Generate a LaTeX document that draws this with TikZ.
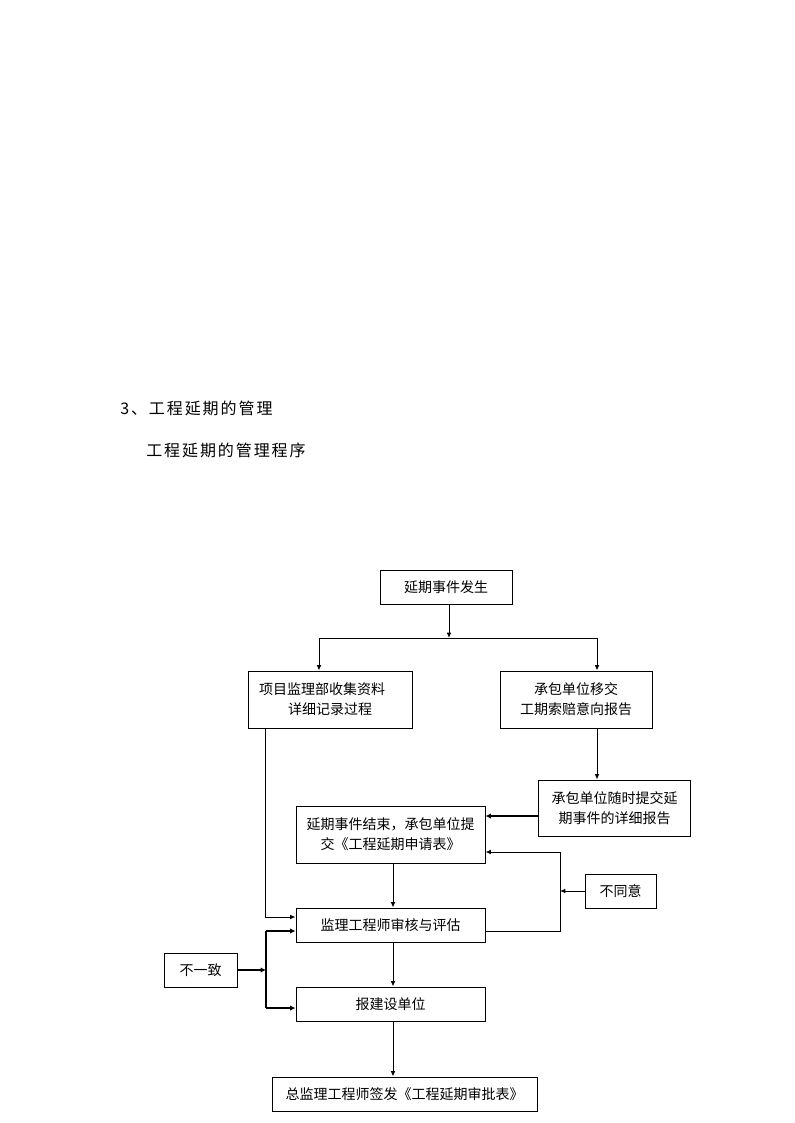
\documentclass[tikz,border=0pt]{standalone}
\usepackage{fontspec}
\newfontfamily\cjk{Noto Sans CJK SC}
\newfontfamily\cjkhead[LetterSpace=12]{Noto Sans CJK SC}
\usetikzlibrary{arrows.meta}

\tikzset{
  box/.style 2 args={draw, line width=0.75pt, minimum width=#1*0.75pt, minimum height=#2*0.75pt,
    inner sep=0pt, align=center, font=\cjk\fontsize{10.5}{15}\selectfont},
  head/.style={anchor=west, inner sep=0pt, font=\cjkhead\fontsize{12}{14}\selectfont},
  arr/.style={-{Latex[length=4pt,width=3.5pt]}, line width=0.75pt},
  thickarr/.style={-{Latex[length=4pt,width=4pt]}, line width=1.5pt},
}

\begin{document}
\begin{tikzpicture}[x=0.75pt,y=-0.75pt]
        \useasboundingbox (0,0) rectangle (794,1123);
        % headings
        \node[head] (sec) at (120,408) {3、工程延期的管理};
        \node[head] (title) at (146,450) {工程延期的管理程序};
        % boxes
        \node[box={132}{34}] (occur) at (446,587) {延期事件发生};
        \node[box={164}{57}] (collect) at (330,699.5) {\hspace*{-12pt}项目监理部收集资料\\详细记录过程};
        \node[box={152}{57}] (intent) at (576,699.5) {承包单位移交\\工期索赔意向报告};
        \node[box={152}{56}] (report) at (614.5,808) {承包单位随时提交延\\期事件的详细报告};
        \node[box={189}{57}] (apply) at (390.5,834.5) {延期事件结束，承包单位提\\交《工程延期申请表》};
        \node[box={189}{34}] (review) at (390.5,925) {监理工程师审核与评估};
        \node[box={71}{34}] (disagree) at (620.5,891) {不同意};
        \node[box={73}{34}] (inconsistent) at (200.5,970) {不一致};
        \node[box={189}{34}] (owner) at (390.5,1004) {报建设单位};
        \node[box={265}{34}] (approve) at (404.5,1094) {总监理工程师签发《工程延期审批表》};
        % fork below the first box
        \coordinate (forkL) at (319,638);
        \coordinate (forkM) at (449,638);
        \coordinate (forkR) at (597,638);
        \draw[arr] (occur.south -| forkM) -- (forkM);
        \draw[line width=0.75pt] (forkL) -- (forkR);
        \draw[arr] (forkL) -- (forkL |- collect.north);
        \draw[arr] (forkR) -- (forkR |- intent.north);
        \draw[arr] (forkR |- intent.south) -- (forkR |- report.north);
        \coordinate (yA) at (0,816);
        \draw[thickarr] (report.west |- yA) -- (apply.east |- yA);
        % left side
        \coordinate (left) at (265,917);
        \draw[arr] (collect.south -| left) -- (left) -- (review.west |- left);
        % middle column
        \coordinate (mid) at (393,0);
        \draw[arr] (apply.south -| mid) -- (review.north -| mid);
        \draw[arr] (review.south -| mid) -- (owner.north -| mid);
        \draw[arr] (owner.south -| mid) -- (approve.north -| mid);
        % loop back
        \coordinate (loopB) at (560,931);
        \coordinate (loopT) at (560,852);
        \draw[arr] (review.east |- loopB) -- (loopB) -- (loopT) -- (apply.east |- loopT);
        \draw[arr] (disagree.west) -- (disagree.west -| loopB);
        % bracket
        \coordinate (brT) at (266,931);
        \coordinate (brM) at (266,970);
        \coordinate (brB) at (266,1008);
        \draw[line width=1.5pt] (brT) -- (brB);
        \draw[thickarr] (brT) -- (review.west |- brT);
        \draw[thickarr] (brB) -- (owner.west |- brB);
        \draw[thickarr] (inconsistent.east) -- (brM);
    \end{tikzpicture}
\end{document}
